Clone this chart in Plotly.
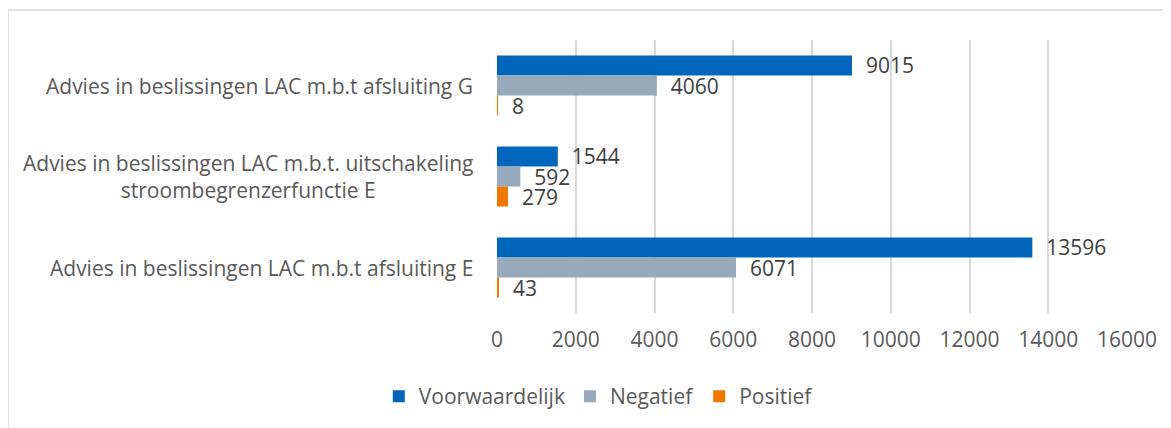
import plotly.graph_objects as go

categories = [
    "Advies in beslissingen LAC m.b.t afsluiting G",
    "Advies in beslissingen LAC m.b.t. uitschakeling<br>stroombegrenzerfunctie E",
    "Advies in beslissingen LAC m.b.t afsluiting E",
]
series_names = ["Voorwaardelijk", "Negatief", "Positief"]
voorwaardelijk = [9015, 1544, 13596]
negatief = [4060, 592, 6071]
positief = [8, 279, 43]
colors = ["#0066BB", "#97A9BA", "#F07800"]
tick_vals = [0, 2000, 4000, 6000, 8000, 10000, 12000, 14000, 16000]
tick_text = ["0", "2000", "4000", "6000", "8000", "10000", "12000", "14000", "16000"]

# page body has an 8px margin; figure drawn at (8, 8)
W, H = 1163, 420
L, R, T, B = 489, 44, 32, 115
font_family = "'Open Sans', sans-serif"
fs = 21

fig = go.Figure()
for name, vals, col in zip(series_names, [voorwaardelijk, negatief, positief], colors):
    fig.add_trace(go.Bar(
        name=name, y=categories, x=vals, orientation="h",
        marker=dict(color=col, line=dict(width=0)),
        texttemplate="  %{x:d}", textposition="outside",
        textfont=dict(size=fs, color="#404040", family=font_family),
        cliponaxis=False, constraintext="none",
    ))

for cat in categories:
    fig.add_annotation(
        x=0, xref="paper", xshift=-22, y=cat, yref="y",
        text=cat, showarrow=False, xanchor="right", align="center",
        font=dict(size=fs, color="#595959", family=font_family),
    )

pw, ph = W - L - R, H - T - B
fig.add_shape(type="rect", xref="paper", yref="paper",
              x0=(0 - L) / pw, x1=(W + 20 - L) / pw,
              y0=(H - B - (H + 20)) / ph, y1=(H - B - 2) / ph,
              line=dict(color="#D9D9D9", width=1.5), fillcolor="rgba(0,0,0,0)", layer="below")

fig.update_layout(
    width=W, height=H,
    margin=dict(l=L, r=R, t=T, b=B),
    barmode="group", bargap=0.34, bargroupgap=0,
    plot_bgcolor="white", paper_bgcolor="white",
    font=dict(family=font_family, color="#595959", size=fs),
    xaxis=dict(range=[0, 16000], tickvals=tick_vals, ticktext=tick_text, showgrid=True,
               gridcolor="#D9D9D9", gridwidth=1.5, zeroline=False, showline=False,
               tickfont=dict(size=fs, color="#595959"), ticklabelstandoff=12),
    yaxis=dict(autorange="reversed", showticklabels=False, showgrid=False,
               zeroline=False, showline=False),
    legend=dict(orientation="h", xref="container", x=0.508, xanchor="center",
                yref="container", y=0.075, yanchor="middle",
                font=dict(size=fs, color="#595959"), itemwidth=30,
                traceorder="normal"),
    showlegend=True,
)
fig.write_html("out.html")
